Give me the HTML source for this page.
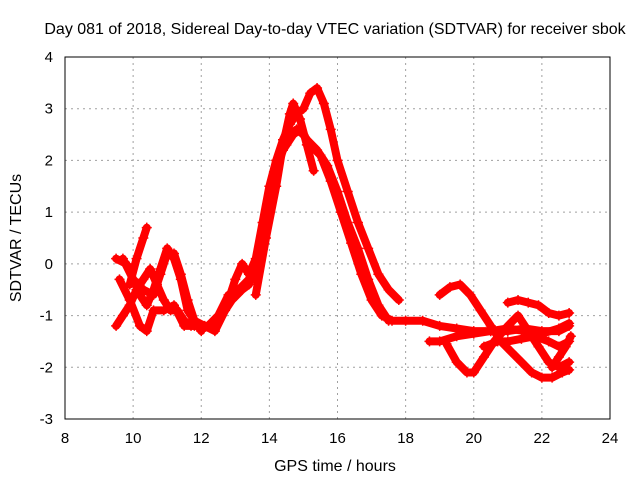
<!DOCTYPE html>
<html><head><meta charset="utf-8"><style>
body{margin:0;background:#fff}
svg{font-family:"Liberation Sans",sans-serif}
</style></head><body>
<svg id="chart" width="640" height="480" viewBox="0 0 640 480">
<rect width="640" height="480" fill="#fff"/>
<text x="335" y="34" font-size="16" text-anchor="middle">Day 081 of 2018, Sidereal Day-to-day VTEC variation (SDTVAR) for receiver sbok</text>
<text x="335" y="471" font-size="16" text-anchor="middle">GPS time / hours</text>
<text transform="translate(21,238) rotate(-90)" font-size="16" text-anchor="middle">SDTVAR / TECUs</text>
<g id="grid"></g><g id="marks"></g>
<rect x="65" y="57" width="545" height="362" fill="none" stroke="#000" stroke-width="1"/>
<g id="ticks"></g>
</svg>
<script>
const xTicks=[8,10,12,14,16,18,20,22,24];
const yTicks=[-3,-2,-1,0,1,2,3,4];
const trackA=[[9.5,-1.2],[9.7,-1.0],[9.9,-0.8],[10.1,-0.5],[10.3,-0.3],[10.5,-0.1],[10.7,-0.4],[10.9,-0.7],[11.1,-0.9],[11.3,-0.9],[11.5,-1.1],[11.7,-1.2],[12.0,-1.2],[12.3,-1.2],[12.6,-1.0],[12.9,-0.7],[13.2,-0.5],[13.4,-0.4],[13.6,-0.1],[13.8,0.5],[14.0,1.2],[14.2,1.8],[14.4,2.2],[14.6,2.5],[14.8,2.6],[15.0,2.5],[15.2,2.3],[15.5,2.1],[15.8,1.6],[16.1,1.0],[16.4,0.4],[16.7,-0.2],[17.0,-0.7],[17.3,-1.0],[17.6,-1.1],[18.0,-1.1],[18.5,-1.1],[19.0,-1.2],[19.5,-1.25],[20.0,-1.3],[20.5,-1.3],[21.0,-1.3],[21.5,-1.25],[22.0,-1.3],[22.5,-1.3],[22.8,-1.2]];
const trackB=[[9.5,0.1],[9.8,0.0],[10.0,-0.3],[10.2,-0.6],[10.4,-0.8],[10.6,-0.5],[10.8,-0.1],[11.0,0.3],[11.2,0.1],[11.4,-0.3],[11.6,-0.9],[11.8,-1.1],[12.1,-1.2],[12.4,-1.3],[12.7,-0.9],[13.0,-0.3],[13.2,0.0],[13.4,-0.2],[13.6,0.1],[13.8,0.8],[14.0,1.5],[14.2,2.0],[14.4,2.4],[14.6,2.7],[14.8,2.9],[15.0,3.0],[15.2,3.3],[15.4,3.4],[15.6,3.1],[15.8,2.6],[16.0,2.0],[16.3,1.4],[16.6,0.8],[16.9,0.3],[17.2,-0.2],[17.5,-0.5],[17.8,-0.7]];
const trackC=[[13.6,-0.6],[13.9,0.5],[14.2,1.5],[14.4,2.3],[14.6,2.9],[14.7,3.1],[14.9,2.8],[15.1,2.3],[15.3,1.8]];
const trackD=[[9.6,-0.3],[9.9,-0.7],[10.2,-1.2],[10.4,-1.3],[10.6,-0.9],[10.9,-0.9],[11.2,-0.8],[11.5,-1.2],[11.8,-1.2],[12.2,-1.2],[12.5,-1.0],[12.8,-0.6],[13.1,-0.5],[13.4,-0.3],[13.7,0.2],[13.9,0.9],[14.1,1.6],[14.3,2.1],[14.5,2.3],[14.7,2.5],[14.9,2.6],[15.1,2.4],[15.4,2.2],[15.7,1.9],[16.0,1.4],[16.3,0.8],[16.6,0.3],[16.9,-0.3],[17.2,-0.8],[17.5,-1.1]];
const trackE=[[9.7,0.1],[10.0,-0.3],[10.3,-0.5],[10.6,-0.6],[10.8,-0.2],[11.0,0.2],[11.2,0.2],[11.4,-0.2],[11.6,-0.7],[11.8,-1.1],[12.0,-1.3]];
const trackL=[[9.9,-0.4],[10.1,0.1],[10.3,0.5],[10.4,0.7]];
const trackF=[[19.0,-0.6],[19.3,-0.45],[19.6,-0.4],[19.9,-0.6],[20.2,-0.9],[20.5,-1.2],[20.8,-1.5],[21.1,-1.7],[21.4,-1.9],[21.7,-2.1],[22.0,-2.2],[22.3,-2.2],[22.6,-2.1],[22.8,-2.05]];
const trackG=[[18.7,-1.5],[19.0,-1.5],[19.5,-1.4],[20.0,-1.35],[20.5,-1.3],[21.0,-1.25],[21.5,-1.3],[22.0,-1.35],[22.5,-1.25],[22.8,-1.15]];
const trackH=[[19.2,-1.55],[19.5,-1.9],[19.8,-2.1],[20.0,-2.1],[20.3,-1.8],[20.6,-1.5],[21.0,-1.2],[21.3,-1.0],[21.6,-1.3],[21.9,-1.6],[22.2,-1.9],[22.5,-2.0],[22.8,-1.9]];
const trackI=[[21.0,-0.75],[21.3,-0.7],[21.6,-0.75],[21.9,-0.8],[22.2,-0.95],[22.5,-1.0],[22.8,-0.95]];
const trackJ=[[20.3,-1.6],[20.7,-1.5],[21.0,-1.5],[21.4,-1.45],[21.8,-1.4],[22.2,-1.5],[22.5,-1.6],[22.8,-1.5]];
const trackK=[[22.3,-2.0],[22.5,-1.8],[22.7,-1.6],[22.85,-1.4]];
const tracks=[trackA,trackB,trackC,trackD,trackE,trackL,trackF,trackG,trackH,trackI,trackJ,trackK];
const NS="http://www.w3.org/2000/svg";
const X=v=>65+(v-8)*545/16, Y=v=>57+(4-v)*362/7;
const grid=document.getElementById('grid'),ticks=document.getElementById('ticks'),marks=document.getElementById('marks');
function mk(tag,attrs,parent){const e=document.createElementNS(NS,tag);for(const k in attrs)e.setAttribute(k,attrs[k]);parent.appendChild(e);return e;}
xTicks.forEach(t=>{
 if(t>8&&t<24){const g=mk('line',{x1:X(t),x2:X(t),y1:57,y2:419,stroke:'#a0a0a0','stroke-dasharray':'2,4'},grid);
 
 }
 const l=mk('text',{x:X(t),y:443,'font-size':15,'text-anchor':'middle'},ticks);l.textContent=t;
 
 
});
yTicks.forEach(t=>{
 if(t>-3&&t<4){const g=mk('line',{x1:65,x2:610,y1:Y(t),y2:Y(t),stroke:'#a0a0a0','stroke-dasharray':'2,4'},grid);
 
 }
 const l=mk('text',{x:53,y:Y(t)+5,'font-size':15,'text-anchor':'end'},ticks);l.textContent=t;
 
 
});
tracks.forEach((tr,i)=>{
 const p=mk('polyline',{points:tr.map(d=>X(d[0])+','+Y(d[1])).join(' '),fill:'none',stroke:'#ff0000','stroke-width':8,'stroke-linejoin':'round','stroke-linecap':'round'},marks);
 
 
 tr.forEach(d=>{
  const x=X(d[0]),y=Y(d[1]);
  const m=mk('path',{d:`M${x-5},${y}H${x+5}M${x},${y-5}V${y+5}`,stroke:'#ff0000','stroke-width':1.5},marks);
  
  
 });
});
</script>
</body></html>
